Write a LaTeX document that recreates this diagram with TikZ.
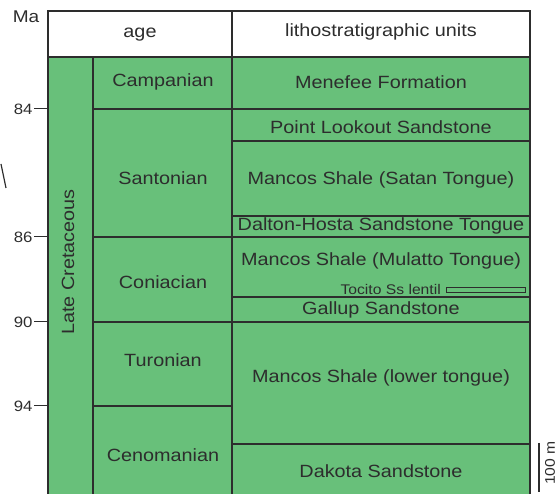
\documentclass[tikz,border=0pt]{standalone}
\usepackage{fontspec}
\setmainfont{Liberation Sans}[FakeStretch=1.12]
\definecolor{unitgreen}{RGB}{104,192,122}
\definecolor{rule}{RGB}{45,45,45}
\begin{document}
\begin{tikzpicture}[x=1pt,y=-1pt,
  gridline/.style={draw=rule,line width=1.05pt},
  lbl/.style={inner sep=0pt,font=\fontsize{17.7}{20}\selectfont,text=rule},
  smalllbl/.style={inner sep=0pt,font=\fontsize{14}{16}\selectfont,text=rule},
  ticklbl/.style={inner sep=0pt,anchor=east,font=\fontsize{15}{17}\selectfont,text=rule},
  tickline/.style={draw=rule,line width=1pt}]
\useasboundingbox (0,0) rectangle (560,494);
% fills
\fill[white] (48,11) rectangle (530,57);
\fill[unitgreen] (48,57) rectangle (530,494);
% outer frame (open at bottom)
\draw[gridline] (48,494) -- (48,11) -- (530,11) -- (530,494);
\draw[gridline] (48,57) -- (530,57);
\draw[gridline] (93,57) -- (93,494);
\draw[gridline] (232,11) -- (232,494);
% stage boundaries
\draw[gridline] (93,109) -- (232,109);
\draw[gridline] (93,237) -- (232,237);
\draw[gridline] (93,322) -- (232,322);
\draw[gridline] (93,406) -- (232,406);
% lithologic boundaries
\draw[gridline] (232,109) -- (530,109);
\draw[gridline] (232,141) -- (530,141);
\draw[gridline] (232,216) -- (530,216);
\draw[gridline] (232,237) -- (530,237);
\draw[gridline] (232,297) -- (530,297);
\draw[gridline] (232,322) -- (530,322);
\draw[gridline] (232,444) -- (530,444);
% Tocito lentil
\draw[draw=rule,line width=0.9pt,fill=unitgreen] (446,287) rectangle (525,292.5);
% headers
\node[lbl] (hage) at (140,35) {age};
\node[lbl] (hlith) at (381,32) {lithostratigraphic units};
\node[inner sep=0pt,font=\fontsize{17}{19}\selectfont,text=rule] (ma) at (26,17) {Ma};
% axis ticks
\coordinate (t84) at (48,109);
\coordinate (t86) at (48,237);
\coordinate (t90) at (48,322);
\coordinate (t94) at (48,406);
\foreach \n in {84,86,90,94}{
  \draw[tickline] (t\n) -- ++(-14,0) node[ticklbl,xshift=-1pt] (l\n) {\n};
}
% stray stroke
\draw[line width=1.2pt,rule] (1,164) -- (6,188);
% period
\node[lbl,rotate=90] (late) at (68,262) {Late Cretaceous};
% stages
\node[lbl] (camp) at (163,82) {Campanian};
\node[lbl] (sant) at (163,178) {Santonian};
\node[lbl] (coni) at (163,282) {Coniacian};
\node[lbl] (turo) at (163,360) {Turonian};
\node[lbl] (ceno) at (163,455) {Cenomanian};
% units
\node[lbl] (mene) at (381,82) {Menefee Formation};
\node[lbl] (point) at (381,127) {Point Lookout Sandstone};
\node[lbl] (satan) at (381,180) {Mancos Shale (Satan Tongue)};
\node[lbl] (dalton) at (381,226) {Dalton-Hosta Sandstone Tongue};
\node[lbl] (mulatto) at (381,261) {Mancos Shale (Mulatto Tongue)};
\node[smalllbl,anchor=east] (tocito) at (441,289.5) {Tocito Ss lentil};
\node[lbl] (gallup) at (381,310) {Gallup Sandstone};
\node[lbl] (lower) at (381,378) {Mancos Shale (lower tongue)};
\node[lbl] (dakota) at (381,471) {Dakota Sandstone};
% scale bar
\coordinate (sbtop) at (539,443);
\coordinate (sbbot) at (539,492);
\draw[line width=1.4pt,rule] (sbtop) -- (sbbot);
\node[smalllbl,rotate=90] (scale) at (550,463) {100 m};
\end{tikzpicture}
\end{document}
